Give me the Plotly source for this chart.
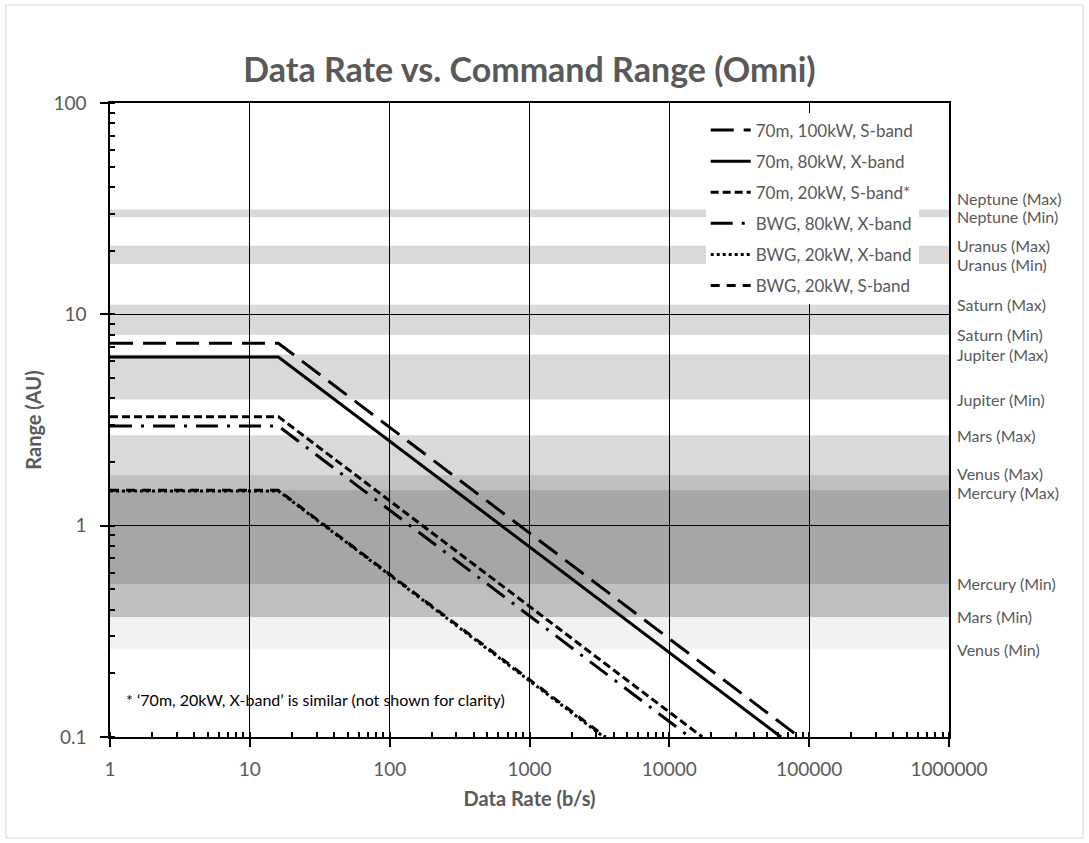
import math
import plotly.graph_objects as go

# ---------------- data ----------------
series_names = [
    "70m, 100kW, S-band",
    "70m, 80kW, X-band",
    "70m, 20kW, S-band*",
    "BWG, 80kW, X-band",
    "BWG, 20kW, X-band",
    "BWG, 20kW, S-band",
]
# data rate (b/s) break points for each series
rate_70m_100kw_s = [1, 16, 85000]
rate_70m_80kw_x = [1, 16, 63000]
rate_70m_20kw_s = [1, 16, 17200]
rate_bwg_80kw_x = [1, 16, 14000]
rate_bwg_20kw_x = [1, 16, 3400]
rate_bwg_20kw_s = [1, 16, 3500]
# command range (AU)
range_70m_100kw_s = [7.3, 7.3, 0.1]
range_70m_80kw_x = [6.28, 6.28, 0.1]
range_70m_20kw_s = [3.28, 3.28, 0.1]
range_bwg_80kw_x = [2.96, 2.96, 0.1]
range_bwg_20kw_x = [1.46, 1.46, 0.1]
range_bwg_20kw_s = [1.47, 1.47, 0.1]

planets = ["Mercury", "Venus", "Mars", "Jupiter", "Saturn", "Uranus", "Neptune"]
planet_min = [0.53, 0.26, 0.37, 3.95, 8.0, 17.3, 28.8]
planet_max = [1.47, 1.73, 2.68, 6.45, 11.1, 21.1, 31.3]

x_tickvals = [1, 10, 100, 1000, 10000, 100000, 1000000]
x_ticktext = ["1", "10", "100", "1000", "10000", "100000", "1000000"]
y_tickvals = [0.1, 1, 10, 100]
y_ticktext = ["0.1", "1", "10", "100"]

# ---------------- styles ----------------
FONT = "Lato"
GREY = "#595959"
rates = [rate_70m_100kw_s, rate_70m_80kw_x, rate_70m_20kw_s,
         rate_bwg_80kw_x, rate_bwg_20kw_x, rate_bwg_20kw_s]
ranges = [range_70m_100kw_s, range_70m_80kw_x, range_70m_20kw_s,
          range_bwg_80kw_x, range_bwg_20kw_x, range_bwg_20kw_s]
dashes = ["23px,10px", "solid", "8px,4px", "22px,9px,3px,9px", "3px,3px", "9px,7px"]

fig = go.Figure()
for i, name in enumerate(series_names):
    fig.add_trace(go.Scatter(
        x=rates[i], y=ranges[i], mode="lines", name=name,
        legendgroup=f"g{i}",
        line=dict(color="black", width=3, dash=dashes[i]),
        hoverinfo="skip",
    ))

# planet range bands
band_color = {"Venus": "#f2f2f2", "Mars": "#d9d9d9", "Jupiter": "#d9d9d9",
              "Saturn": "#d9d9d9", "Uranus": "#d9d9d9", "Neptune": "#d9d9d9"}
shapes = []
order = ["Venus", "Mars", "Jupiter", "Saturn", "Uranus", "Neptune"]
for p in order:
    k = planets.index(p)
    shapes.append(dict(type="rect", xref="x", yref="y", layer="below",
                       x0=x_tickvals[0], x1=x_tickvals[-1],
                       y0=planet_min[k], y1=planet_max[k],
                       fillcolor=band_color[p], line=dict(width=0)))
# Venus & Mars overlap
kv, km, kme = planets.index("Venus"), planets.index("Mars"), planets.index("Mercury")
shapes.append(dict(type="rect", xref="x", yref="y", layer="below",
                   x0=x_tickvals[0], x1=x_tickvals[-1],
                   y0=max(planet_min[kv], planet_min[km]),
                   y1=min(planet_max[kv], planet_max[km]),
                   fillcolor="#bfbfbf", line=dict(width=0)))
shapes.append(dict(type="rect", xref="x", yref="y", layer="below",
                   x0=x_tickvals[0], x1=x_tickvals[-1],
                   y0=planet_min[kme], y1=planet_max[kme],
                   fillcolor="#a6a6a6", line=dict(width=0)))
# chart-area border
shapes.append(dict(type="rect", xref="paper", yref="paper",
                   x0=-0.124, x1=1.1597, y0=-0.1593, y1=1.1546,
                   line=dict(color="#d9d9d9", width=1), fillcolor="rgba(0,0,0,0)",
                   layer="below"))

annotations = []
label_shift = {("Neptune", "Max"): 11, ("Neptune", "Min"): 1,
               ("Venus", "Max"): 2, ("Mercury", "Max"): -2}
for k, p in enumerate(planets):
    for tag, val in (("Max", planet_max[k]), ("Min", planet_min[k])):
        annotations.append(dict(
            xref="paper", yref="y", x=1, y=math.log10(val),
            xanchor="left", yanchor="middle", xshift=6,
            yshift=label_shift.get((p, tag), 0),
            text=f"{p} ({tag})", showarrow=False,
            font=dict(family=FONT, size=16, color=GREY)))
annotations.append(dict(
    xref="paper", yref="paper", x=0.017, y=0.059, xanchor="left", yanchor="middle",
    text="* \u201870m, 20kW, X-band\u2019 is similar (not shown for clarity)",
    showarrow=False, font=dict(family=FONT, size=16, color="#000000")))

axis_common = dict(
    type="log", showgrid=True, gridcolor="black", gridwidth=1,
    showline=True, linecolor="black", linewidth=1.5, mirror=True,
    ticks="outside", ticklen=8, tickcolor="black", tickwidth=1.5,
    tickmode="array",
    minor=dict(ticks="inside", ticklen=5, tickcolor="black", dtick="D1", showgrid=False),
    tickfont=dict(family=FONT, size=19, color=GREY),
    zeroline=False,
)

fig.update_layout(
    width=1089, height=843,
    margin=dict(l=110, r=140, t=103, b=106),
    paper_bgcolor="white", plot_bgcolor="white",
    title=dict(text="<b>Data Rate vs. Command Range (Omni)</b>", x=0.5, xref="paper",
               xanchor="center", y=0.917, yanchor="middle",
               font=dict(family=FONT, size=34, color=GREY)),
    xaxis=dict(axis_common, range=[0, 6], tickvals=x_tickvals, ticktext=x_ticktext,
               ticklabelstandoff=6,
               title=dict(text="<b>Data Rate (b/s)</b>", standoff=13,
                          font=dict(family=FONT, size=20, color=GREY))),
    yaxis=dict(axis_common, range=[-1, 2], tickvals=y_tickvals, ticktext=y_ticktext,
               ticklabelstandoff=10,
               title=dict(text="<b>Range (AU)</b>", standoff=6,
                          font=dict(family=FONT, size=20, color=GREY))),
    legend=dict(x=0.71, y=0.985, xanchor="left", yanchor="top",
                bgcolor="white", borderwidth=0, itemwidth=40,
                tracegroupgap=6,
                font=dict(family=FONT, size=17, color=GREY)),
    shapes=shapes,
    annotations=annotations,
    showlegend=True,
)

fig.write_html("out.html", config={"displayModeBar": False},
               post_script="document.body.style.margin='0';")
